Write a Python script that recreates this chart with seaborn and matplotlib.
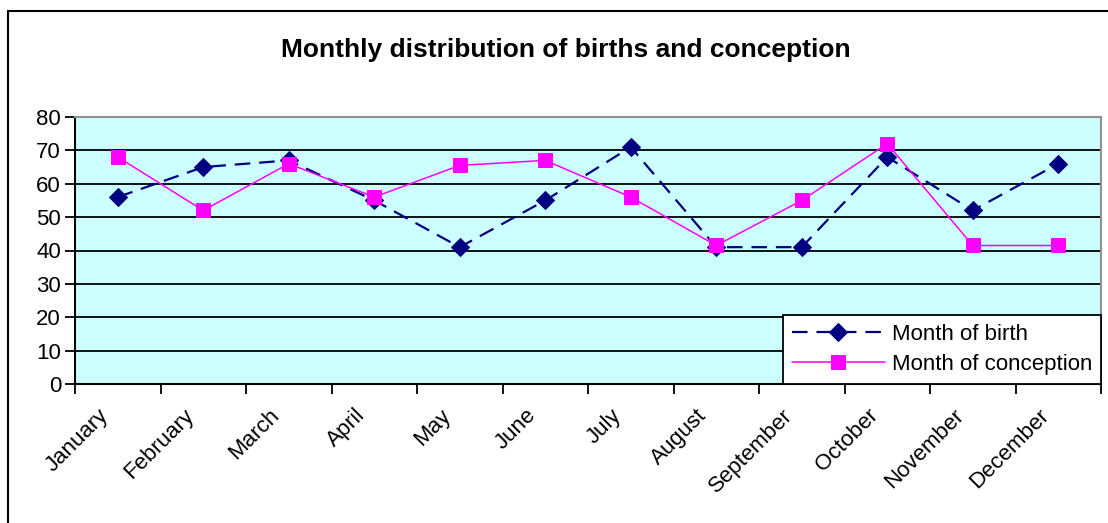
import numpy as np
import pandas as pd
import matplotlib
matplotlib.use('Agg')
import matplotlib.pyplot as plt
import matplotlib.patches as patches
from matplotlib.ticker import FixedLocator, NullFormatter
import seaborn as sns

months = ['January', 'February', 'March', 'April', 'May', 'June', 'July',
          'August', 'September', 'October', 'November', 'December']
birth = [56, 65, 67, 55, 41, 55, 71, 41, 41, 68, 52, 66]
conception = [68, 52, 66, 56, 65.5, 67, 56, 41.5, 55, 72, 41.5, 41.5]
y_ticks = [0, 10, 20, 30, 40, 50, 60, 70, 80]

sns.set_style('white')
plt.rcParams['font.family'] = ['Liberation Sans', 'DejaVu Sans']
plt.rcParams.update({'text.color': 'black', 'xtick.color': 'black',
                     'ytick.color': 'black', 'axes.labelcolor': 'black'})

fig = plt.figure(figsize=(11.08, 5.23), dpi=100)
ax = fig.add_axes([75 / 1108, 1 - 384 / 523, (1101 - 75) / 1108, (384 - 117) / 523])
ax.set_facecolor('#CCFFFF')

# outer chart border (only left/top visible in the crop)
fig.patches.append(patches.Rectangle((8 / 1108, -0.2), 1.2, 1.2 - 11 / 523,
                                     transform=fig.transFigure, fill=False,
                                     edgecolor='black', linewidth=1.5, zorder=0))

for y in y_ticks[1:-1]:
    ax.axhline(y, color='black', linewidth=1.3, zorder=1)

sns.lineplot(x=months, y=birth, ax=ax, color='#000080', marker='D', markersize=9,
             markeredgecolor='#000080', linewidth=1.6, label='Month of birth',
             zorder=3, sort=False)
ax.lines[-1].set_dashes([7, 4])
sns.lineplot(x=months, y=conception, ax=ax, color='#FF00FF', marker='s', markersize=10,
             markeredgecolor='#FF00FF', linewidth=1.1, label='Month of conception',
             zorder=4, sort=False)

ax.set_xlim(-0.5, 11.5)
ax.set_ylim(0, 80)
ax.set_yticks(y_ticks)
ax.tick_params(axis='y', labelsize=16, length=7, width=1.3, direction='out',
               left=True, pad=3)

# category boundaries as ticks, labels sit a little left of the category centre
ax.xaxis.set_major_locator(FixedLocator(np.arange(-0.5, 12, 1)))
ax.xaxis.set_major_formatter(NullFormatter())
ax.xaxis.set_minor_locator(FixedLocator(np.arange(len(months)) - 0.23))
ax.set_xticklabels(months, minor=True, rotation=45, ha='right', va='top',
                   rotation_mode='anchor', fontsize=16)
ax.tick_params(axis='x', which='major', length=7, width=1.3, direction='out', bottom=True)
ax.tick_params(axis='x', which='minor', length=0, pad=15)
ax.set_xlabel('')
ax.set_ylabel('')

for side in ['left', 'bottom']:
    ax.spines[side].set_color('black')
    ax.spines[side].set_linewidth(1.5)
for side in ['top', 'right']:
    ax.spines[side].set_color('#909090')
    ax.spines[side].set_linewidth(1.5)

leg = ax.legend(loc='lower right', bbox_to_anchor=(1, 0), borderaxespad=0,
                fontsize=16, frameon=True, fancybox=False, handlelength=4.2,
                labelspacing=0.4, borderpad=0.4, handletextpad=0.3)
leg.get_frame().set_edgecolor('black')
leg.get_frame().set_linewidth(1.3)
leg.get_frame().set_alpha(1)
leg.set_zorder(10)

fig.text(566 / 1108, 1 - 57 / 523, 'Monthly distribution of births and conception',
         ha='center', va='baseline', fontsize=19, fontweight='bold')

fig.savefig('out.png', dpi=100, facecolor='white')
